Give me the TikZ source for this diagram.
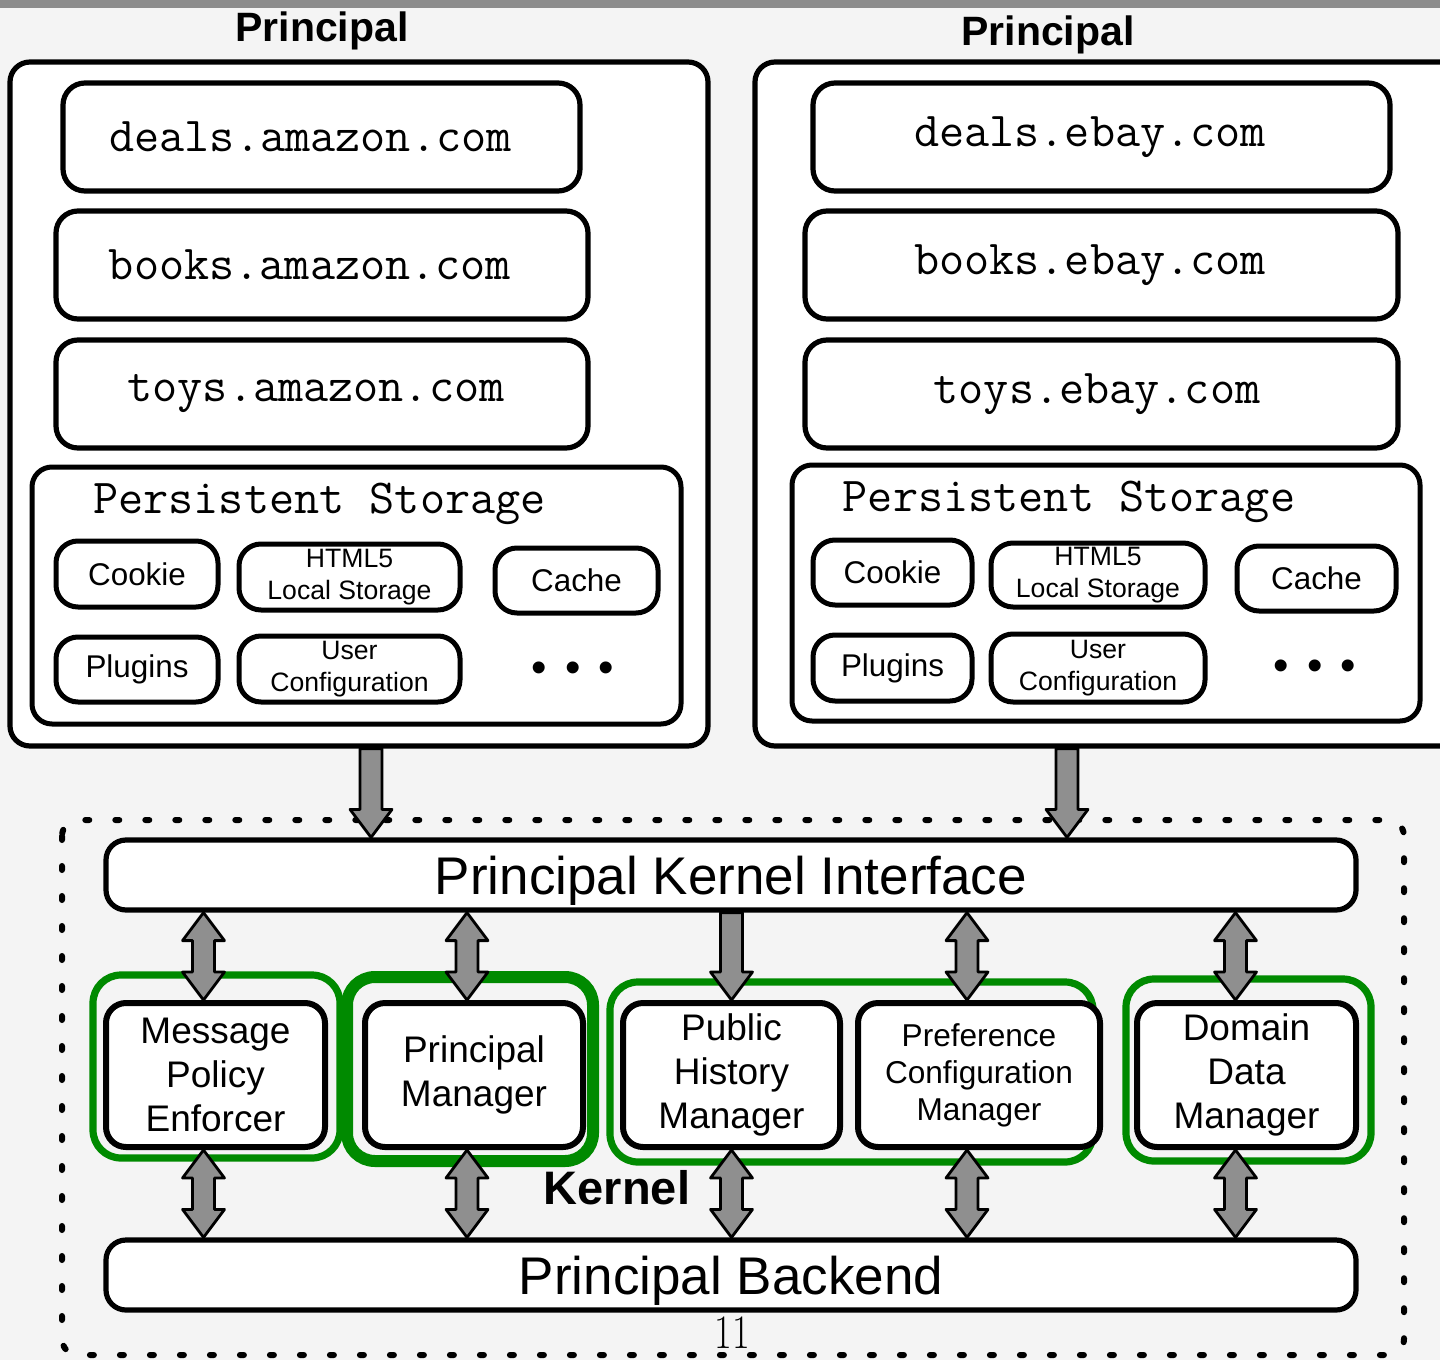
\documentclass[tikz,border=0pt]{standalone}
\usepackage{fontspec}
\newfontfamily\hv{Liberation Sans}
\usetikzlibrary{calc}
\definecolor{bg}{HTML}{F4F4F4}
\definecolor{strip}{HTML}{8C8C8C}
\definecolor{kgreen}{RGB}{0,138,0}
\definecolor{agray}{HTML}{8F8F8F}
\def\fsw{5.5pt}
\def\fhw{10.5pt}
\def\fhl{14pt}
\newcommand\bx[7]{%
  \pgfmathsetmacro\bcx{(#3+#5)/2}\pgfmathsetmacro\bcy{(#4+#6)/2}%
  \pgfmathsetmacro\bw{(#5-#3)/2}\pgfmathsetmacro\bh{(#6-#4)/2}%
  \node[#1, minimum width=\bw pt, minimum height=\bh pt] (#2) at (\bcx,\bcy) {#7};}
\newcommand\fatone[2]{\draw[fatarrow] let \p1=(#1), \p2=(#2) in
  (\x1-\fsw,\y1) -- (\x1-\fsw,\y2+\fhl) -- (\x1-\fhw,\y2+\fhl) -- (\x1,\y2)
  -- (\x1+\fhw,\y2+\fhl) -- (\x1+\fsw,\y2+\fhl) -- (\x1+\fsw,\y1) -- cycle;}
\newcommand\fattwo[2]{\draw[fatarrow] let \p1=(#1), \p2=(#2) in
  (\x1,\y1) -- (\x1+\fhw,\y1-\fhl) -- (\x1+\fsw,\y1-\fhl) -- (\x1+\fsw,\y2+\fhl)
  -- (\x1+\fhw,\y2+\fhl) -- (\x1,\y2) -- (\x1-\fhw,\y2+\fhl) -- (\x1-\fsw,\y2+\fhl)
  -- (\x1-\fsw,\y1-\fhl) -- (\x1-\fhw,\y1-\fhl) -- cycle;}
\begin{document}
\begin{tikzpicture}[x=0.5pt,y=-0.5pt,
  every node/.style={font=\hv, inner sep=0pt, align=center},
  outerbox/.style={draw, fill=white, line width=2.6pt, rounded corners=10pt},
  dombox/.style={draw, fill=white, line width=2.6pt, rounded corners=11pt,
     font=\ttfamily\fontsize{24.4}{26}\selectfont},
  storebox/.style={draw, fill=white, line width=2.5pt, rounded corners=10pt},
  itembox/.style={draw, fill=white, line width=2.5pt, rounded corners=11pt,
     font=\hv\fontsize{15.7}{18}\selectfont},
  smallitem/.style={itembox, font=\hv\fontsize{13.3}{16}\selectfont},
  wide/.style={draw, fill=white, line width=2.6pt, rounded corners=10pt,
     font=\hv\fontsize{26.5}{30}\selectfont, text depth=0pt},
  module/.style={draw, fill=white, line width=3pt, rounded corners=10pt,
     font=\hv\fontsize{18.5}{22}\selectfont},
  pcmod/.style={module, font=\hv\fontsize{15.8}{18.5}\selectfont},
  grp/.style={draw=kgreen, line width=3.6pt, rounded corners=14pt},
  grpthick/.style={draw=kgreen, line width=6pt, rounded corners=14pt},
  kerneldash/.style={draw, line width=3pt, line cap=round, dash pattern=on 2pt off 13pt, rounded corners=8pt},
  fatarrow/.style={draw, fill=agray, line width=1.4pt, line join=round},
  ptitle/.style={font=\hv\bfseries\fontsize{20.5}{23}\selectfont, text depth=0pt},
  pstitle/.style={font=\ttfamily\fontsize{24.4}{26}\selectfont, text depth=0pt},
  dots/.style={font=\hv\fontsize{22}{24}\selectfont}
]
\path[use as bounding box] (0,0) rectangle (1440,1360);
\clip (0,0) rectangle (1440,1360);
\fill[bg] (0,0) rectangle (1440,1360);
\fill[strip] (0,0) rectangle (1440,8);

% ---------- left principal ----------
\node[ptitle] (tl) at (322,27) {Principal};
\bx{outerbox}{pl}{10}{62}{708}{746}{}
\bx{dombox}{dA}{63}{83}{580}{191}{deals.amazon.com\hspace*{11pt}}
\bx{dombox}{bA}{56}{211}{588}{319}{books.amazon.com\hspace*{12pt}}
\bx{dombox}{tA}{56}{340}{588}{448}{toys.amazon.com\hspace*{6pt}}
\bx{storebox}{psL}{32}{467}{681}{724}{}
\node[pstitle] (pstL) at (319.5,498) {Persistent Storage};
\bx{itembox}{ckL}{56}{541}{218}{607}{Cookie}
\bx{smallitem}{h5L}{239}{544}{460}{610}{HTML5\\Local Storage}
\bx{itembox}{caL}{495}{548}{658}{613}{Cache}
\bx{itembox}{plL}{56}{637}{218}{702}{Plugins}
\bx{smallitem}{ucL}{239}{636}{460}{702}{User\\Configuration}
\node[dots] (dotL) at (573,672) {•\hspace{9pt}•\hspace{9pt}•};

% ---------- right principal ----------
\node[ptitle] (tr) at (1048,31) {Principal};
\bx{outerbox}{pr}{755}{62}{1465}{746}{}
\bx{dombox}{dE}{813}{83}{1390}{191}{deals.ebay.com\hspace*{11.5pt}}
\bx{dombox}{bE}{805}{211}{1398}{319}{books.ebay.com\hspace*{11.5pt}}
\bx{dombox}{tE}{805}{340}{1398}{448}{toys.ebay.com\hspace*{4.5pt}}
\bx{storebox}{psR}{792}{465}{1420}{721}{}
\node[pstitle] (pstR) at (1069,496) {Persistent Storage};
\bx{itembox}{ckR}{813}{540}{972}{605}{Cookie}
\bx{smallitem}{h5R}{991}{543}{1205}{607}{HTML5\\Local Storage}
\bx{itembox}{caR}{1237}{546}{1396}{611}{Cache}
\bx{itembox}{plR}{813}{635}{972}{701}{Plugins}
\bx{smallitem}{ucR}{991}{634}{1205}{702}{User\\Configuration}
\node[dots] (dotR) at (1315,670) {•\hspace{9pt}•\hspace{9pt}•};

% ---------- kernel ----------
\draw[kerneldash] (62,820) rectangle (1404,1355);
\bx{wide}{pki}{106}{840}{1356}{910}{Principal Kernel Interface}
\bx{wide}{pbe}{106}{1240}{1356}{1310}{Principal Backend}

\draw[grp] (93,975) rectangle (340,1158);
\draw[grpthick] (347,977) rectangle (593,1161);
\draw[grp] (610,982) rectangle (1093,1162);
\draw[grp] (1126,979) rectangle (1371,1161);

\bx{module}{mpe}{106}{1003}{325}{1147}{Message\\Policy\\Enforcer}
\bx{module}{pm}{365}{1003}{583}{1147}{Principal\\Manager}
\bx{module}{phm}{623}{1003}{840}{1147}{Public\\History\\Manager}
\bx{pcmod}{pcm}{858}{1003}{1100}{1147}{Preference\\Configuration\\Manager}
\bx{module}{ddm}{1137}{1003}{1356}{1147}{Domain\\Data\\Manager}

\node[font=\hv\bfseries\fontsize{23.5}{26}\selectfont] (klab) at (617,1188) {Kernel};
\node[font=\rmfamily\fontsize{24}{28}\selectfont, xscale=0.8] (pnum) at (732,1333) {11};

% ---------- arrows ----------
\coordinate (a1) at ($(pl.south)+(12,0)$);
\coordinate (a2) at ($(pr.south)+(-43,0)$);
\fatone{a1}{a1 |- pki.north}
\fatone{a2}{a2 |- pki.north}
\fatone{pki.south -| phm.north}{phm.north}

\coordinate (b1) at ($(mpe.north)+(-12,0)$);
\coordinate (b2) at ($(pm.north)+(-7,0)$);
\coordinate (b3) at ($(pcm.north)+(-12,0)$);
\coordinate (b4) at ($(ddm.north)+(-11,0)$);
\fattwo{pki.south -| b1}{b1}
\fattwo{pki.south -| b2}{b2}
\fattwo{pki.south -| b3}{b3}
\fattwo{pki.south -| b4}{b4}

\coordinate (c1) at ($(mpe.south)+(-12,0)$);
\coordinate (c2) at ($(pm.south)+(-7,0)$);
\coordinate (c3) at (phm.south);
\coordinate (c4) at ($(pcm.south)+(-12,0)$);
\coordinate (c5) at ($(ddm.south)+(-11,0)$);
\fattwo{c1}{c1 |- pbe.north}
\fattwo{c2}{c2 |- pbe.north}
\fattwo{c3}{c3 |- pbe.north}
\fattwo{c4}{c4 |- pbe.north}
\fattwo{c5}{c5 |- pbe.north}
\end{tikzpicture}
\end{document}
